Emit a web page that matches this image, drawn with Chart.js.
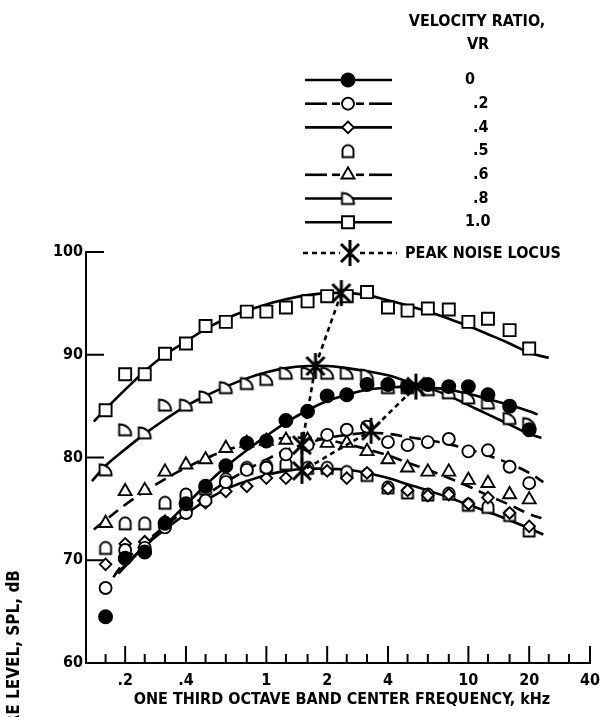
<!DOCTYPE html>
<html><head><meta charset="utf-8">
<script src="https://cdn.jsdelivr.net/npm/chart.js@4.4.0/dist/chart.umd.min.js"></script>
<style>html,body{margin:0;padding:0;background:#fff;} #wrap{width:613px;height:717px;position:relative;}</style>
</head><body><div id="wrap"><canvas id="c" width="613" height="717"></canvas></div>
<script>
// ---------- DATA ----------
const freqs = [0.16,0.2,0.25,0.315,0.4,0.5,0.63,0.8,1,1.25,1.6,2,2.5,3.15,4,5,6.3,8,10,12.5,16,20];
const vr0  = [64.5,70.2,70.8,73.6,75.5,77.2,79.2,81.4,81.6,83.6,84.5,86.0,86.1,87.1,87.1,86.9,87.1,86.9,86.9,86.1,85.0,82.7];
const vr02 = [67.3,71.0,71.2,73.2,74.6,75.8,77.6,78.8,79.0,80.3,81.2,82.2,82.7,83.0,81.5,81.2,81.5,81.8,80.6,80.7,79.1,77.5];
const vr04 = [69.6,71.6,71.8,73.8,74.8,75.6,76.7,77.2,78.0,78.0,78.8,78.7,78.0,78.5,77.0,76.8,76.3,76.4,75.5,76.1,74.6,73.3];
const vr05 = [71.2,73.6,73.6,75.6,76.4,77.0,77.9,79.0,79.2,79.4,79.0,79.0,78.6,78.3,77.1,76.6,76.4,76.5,75.4,75.2,74.4,72.9];
const vr06 = [73.6,76.7,76.8,78.6,79.3,79.8,80.9,81.4,81.6,81.7,81.7,81.4,81.4,80.6,79.8,79.0,78.6,78.6,77.8,77.5,76.4,75.9];
const vr08 = [78.8,82.7,82.4,85.1,85.1,85.9,86.8,87.2,87.6,88.2,88.2,88.2,88.2,88.0,86.8,86.8,86.6,86.3,85.8,85.3,83.8,83.3];
const vr10 = [84.6,88.1,88.1,90.1,91.1,92.8,93.2,94.2,94.2,94.6,95.2,95.7,95.7,96.1,94.6,94.3,94.5,94.4,93.2,93.5,92.4,90.6];

// fitted curves
const fit0F  = [0.185,0.2,0.25,0.315,0.4,0.5,0.63,0.8,1,1.25,1.6,2,2.5,3.15,4,5,6.3,8,10,12.5,16,20,22];
const fit0   = [68.7,69.4,71.4,73.4,75.4,77.3,79.1,80.7,82.1,83.4,84.6,85.5,86.1,86.6,86.8,86.9,86.8,86.6,86.2,85.7,85.1,84.5,84.2];
const fit02F = [0.155,0.2,0.25,0.315,0.4,0.5,0.63,0.8,1,1.25,1.6,2,2.5,3.15,4,5,6.3,8,10,12.5,16,20,23.5];
const fit02  = [66.8,69.9,71.7,73.3,74.9,76.3,77.6,78.8,79.8,80.7,81.4,81.9,82.2,82.4,82.3,82.0,81.7,81.3,80.8,80.2,79.4,78.5,77.6];
const fit04F = [0.19,0.2,0.25,0.315,0.4,0.5,0.63,0.8,1,1.25,1.6,2,2.5,3.15,4,5,6.3,8,10,12.5,16,20,23.5];
const fit04  = [69.1,69.5,71.4,73.0,74.5,75.8,76.9,77.7,78.3,78.7,78.9,78.9,78.8,78.5,78.0,77.4,76.8,76.1,75.4,74.7,73.9,73.1,72.5];
const fit06F = [0.14,0.16,0.2,0.25,0.315,0.4,0.5,0.63,0.8,1,1.25,1.6,2,2.5,3.15,4,5,6.3,8,10,12.5,16,20,23];
const fit06  = [73.0,73.9,75.4,76.7,77.9,79.0,79.9,80.7,81.3,81.7,81.9,81.9,81.7,81.3,80.8,80.2,79.5,78.8,78.0,77.2,76.3,75.4,74.5,74.1];
const fit08F = [0.137,0.16,0.2,0.25,0.315,0.4,0.5,0.63,0.8,1,1.25,1.6,2,2.5,3.15,4,5,6.3,8,10,12.5,16,20,23];
const fit08  = [77.7,79.2,80.8,82.3,83.7,85.0,86.0,86.9,87.7,88.3,88.7,88.9,88.9,88.7,88.4,88.0,87.4,86.8,86.0,85.1,84.2,83.2,82.3,81.9];
const fit10F = [0.14,0.16,0.2,0.25,0.315,0.4,0.5,0.63,0.8,1,1.25,1.6,2,2.5,3.15,4,5,6.3,8,10,12.5,16,20,25];
const fit10  = [83.5,84.7,86.6,88.4,90.0,91.3,92.5,93.5,94.3,94.9,95.4,95.8,96.0,96.0,95.8,95.3,94.8,94.2,93.5,92.8,92.0,91.1,90.2,89.7];

// peak noise locus (VR 1.0, .8, .6, .4, .2, 0)
const locusF = [2.35,1.75,1.5,1.5,3.3,5.5];
const locusY = [96.0,88.9,81.2,78.7,82.6,86.9];

// axis ticks
const xTickMarks  = [0.16,0.2,0.25,0.315,0.4,0.5,0.63,0.8,1,1.25,1.6,2,2.5,3.15,4,5,6.3,8,10,12.5,16,20,25,31.5,40];
const xTickValues = [0.2,0.4,1,2,4,10,20,40];
const xTickLabels = ['.2','.4','1','2','4','10','20','40'];
const yTickValues = [60,70,80,90,100];
const legendLabels = ['0','.2','.4','.5','.6','.8','1.0'];

// ---------- STYLE ----------
const FF = '"Liberation Sans Narrow","DejaVu Sans Condensed","Roboto Condensed",sans-serif';
const FS = 16;
function mk(w,h,fn){const c=document.createElement('canvas');c.width=w;c.height=h;const g=c.getContext('2d');g.strokeStyle='#000';g.fillStyle='#fff';fn(g);return c;}
const domeImg = mk(16,17,g=>{g.lineWidth=1.9;g.beginPath();g.moveTo(2.5,14.5);g.lineTo(2.5,8);g.arc(8,8,5.5,Math.PI,0);g.lineTo(13.5,14.5);g.closePath();g.fill();g.stroke();});
const dImg = mk(17,16,g=>{g.lineWidth=1.9;g.beginPath();g.moveTo(2.5,2.5);g.bezierCurveTo(9,2.5,14.5,7,14.5,13.5);g.lineTo(2.5,13.5);g.closePath();g.fill();g.stroke();});
const starImg = mk(24,30,g=>{g.lineWidth=3;g.beginPath();g.moveTo(12,2);g.lineTo(12,28);g.moveTo(3,6);g.lineTo(21,24);g.moveTo(21,6);g.lineTo(3,24);g.stroke();});

const DASH = [12,7];
const series = [
  {vals:vr0,  fitF:fit0F,  fit:fit0,  dash:[],   ps:'circle',   r:6.5, bg:'#000'},
  {vals:vr02, fitF:fit02F, fit:fit02, dash:DASH, ps:'circle',   r:6,   bg:'#fff'},
  {vals:vr04, fitF:fit04F, fit:fit04, dash:[],   ps:'rectRot',  r:5.8, bg:'#fff'},
  {vals:vr05, fitF:null,   fit:null,  dash:null, ps:domeImg,    r:7,   bg:'#fff'},
  {vals:vr06, fitF:fit06F, fit:fit06, dash:DASH, ps:'triangle', r:7.5, bg:'#fff'},
  {vals:vr08, fitF:fit08F, fit:fit08, dash:[],   ps:dImg,       r:7,   bg:'#fff'},
  {vals:vr10, fitF:fit10F, fit:fit10, dash:[],   ps:'rect',     r:8.5, bg:'#fff'}
];

const datasets = [];
series.forEach((s,i)=>{
  datasets.push({data:freqs.map((f,k)=>({x:f,y:s.vals[k]})), showLine:false,
    pointStyle:s.ps, pointRadius:s.r, pointBackgroundColor:s.bg, pointBorderColor:'#000',
    pointBorderWidth:1.9, order:1});
  if(s.fit){
    datasets.push({data:s.fitF.map((f,k)=>({x:f,y:s.fit[k]})), borderColor:'#000', borderWidth:2.6,
      borderDash:s.dash, pointRadius:0, tension:0.4, fill:false, order:2});
  }
});
datasets.push({data:locusF.map((f,k)=>({x:f,y:locusY[k]})), borderColor:'#000', borderWidth:2.6,
  borderDash:[5,4], pointStyle:starImg, pointRadius:8, tension:0, order:0});

// ---------- PLUGINS ----------
const decor = {
  id:'decor',
  afterDraw(chart){
    const ctx=chart.ctx, xs=chart.scales.x, ys=chart.scales.y, a=chart.chartArea;
    ctx.save();
    ctx.strokeStyle='#000'; ctx.fillStyle='#000'; ctx.lineWidth=2;
    xTickMarks.forEach(v=>{
      const px=xs.getPixelForValue(v); const L = xTickValues.includes(v)?17:9;
      ctx.beginPath(); ctx.moveTo(px,a.bottom); ctx.lineTo(px,a.bottom-L); ctx.stroke();
    });
    yTickValues.forEach(v=>{ if(v===60) return;
      const py=ys.getPixelForValue(v);
      ctx.beginPath(); ctx.moveTo(a.left,py); ctx.lineTo(a.left+18,py); ctx.stroke();
    });
    ctx.font='bold '+FS+'px '+FF; ctx.textAlign='center'; ctx.textBaseline='middle';
    ctx.fillText('ONE THIRD OCTAVE BAND CENTER FREQUENCY, kHz', 342, 700);
    ctx.save(); ctx.font='bold 17px '+FF; ctx.translate(15,570); ctx.rotate(-Math.PI/2);
    ctx.textAlign='right'; ctx.fillText('SOUND PRESSURE LEVEL, SPL, dB',0,0); ctx.restore();
    ctx.textAlign='center';
    ctx.fillText('VELOCITY RATIO,', 477, 22);
    ctx.fillText('VR', 478, 45);
    const x0=305, x1=392, xm=348;
    series.forEach((s,i)=>{
      const y = 80 + i*23.7;
      ctx.lineWidth=2.6; ctx.setLineDash([]);
      if(s.dash && s.dash.length){
        [[x0,327],[332,340],[356,364],[369,x1]].forEach(seg=>{ctx.beginPath();ctx.moveTo(seg[0],y);ctx.lineTo(seg[1],y);ctx.stroke();});
      } else if(s.dash){
        ctx.beginPath(); ctx.moveTo(x0,y); ctx.lineTo(x1,y); ctx.stroke();
      }
      ctx.lineWidth=1.9;
      ctx.fillStyle = s.bg;
      Chart.helpers.drawPoint(ctx,{pointStyle:s.ps,radius:s.r,rotation:0,borderWidth:1.9},xm,y);
      ctx.fillStyle='#000'; ctx.textAlign='left';
      const lbl=legendLabels[i];
      ctx.fillText(lbl, lbl.startsWith('.')?473:465, y);
    });
    const yp=253;
    ctx.lineWidth=2.6; ctx.setLineDash([5,4]);
    ctx.beginPath(); ctx.moveTo(303,yp); ctx.lineTo(340,yp); ctx.moveTo(360,yp); ctx.lineTo(397,yp); ctx.stroke();
    ctx.setLineDash([]);
    Chart.helpers.drawPoint(ctx,{pointStyle:starImg,radius:8,rotation:0,borderWidth:2},350,yp);
    ctx.textAlign='left'; ctx.fillText('PEAK NOISE LOCUS', 405, yp+1);
    ctx.restore();
  }
};

new Chart(document.getElementById('c'),{
  type:'line',
  data:{datasets},
  options:{
    responsive:false, animation:false, devicePixelRatio:1,
    layout:{padding:{top:252,right:23,bottom:0,left:0}},
    plugins:{legend:{display:false},tooltip:{enabled:false}},
    scales:{
      x:{type:'logarithmic',min:0.128,max:40,
        afterBuildTicks:s=>{s.ticks=xTickValues.map(v=>({value:v}));},
        afterFit:s=>{s.height=54;},
        ticks:{autoSkip:false,maxRotation:0,padding:8,color:'#000',font:{family:FF,size:FS,weight:'bold'},
          callback:(v,i)=>xTickLabels[i]},
        grid:{display:false,drawTicks:false},
        border:{display:true,color:'#000',width:2}},
      y:{type:'linear',min:60,max:100,
        afterBuildTicks:s=>{s.ticks=yTickValues.map(v=>({value:v}));},
        afterFit:s=>{s.width=86;},
        ticks:{padding:3,color:'#000',font:{family:FF,size:FS,weight:'bold'}},
        grid:{display:false,drawTicks:false},
        border:{display:true,color:'#000',width:2}}
    }
  },
  plugins:[decor]
});
</script></body></html>
